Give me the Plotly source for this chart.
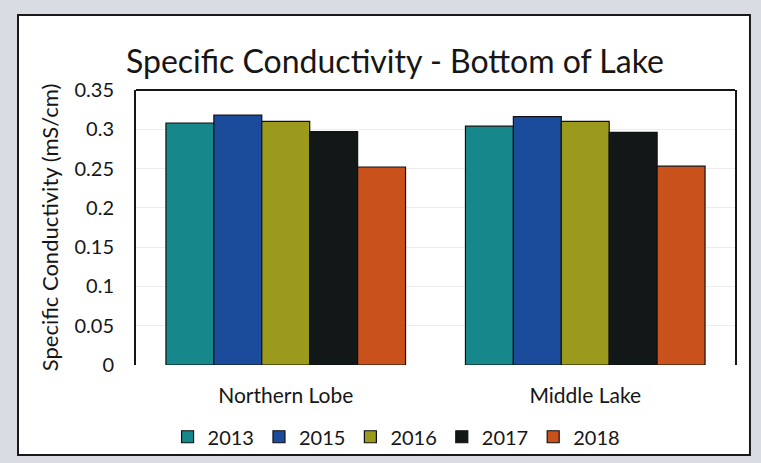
import plotly.graph_objects as go

# Bottom-of-lake specific conductivity by site and survey year
sites = ["Northern Lobe", "Middle Lake"]
years = ["2013", "2015", "2016", "2017", "2018"]
cond_2013 = [0.308, 0.304]
cond_2015 = [0.318, 0.316]
cond_2016 = [0.310, 0.310]
cond_2017 = [0.297, 0.296]
cond_2018 = [0.252, 0.253]
y_ticks = [0, 0.05, 0.1, 0.15, 0.2, 0.25, 0.3, 0.35]
y_tick_text = ["0", "0.05", "0.1", "0.15", "0.2", "0.25", "0.3", "0.35"]

series = [cond_2013, cond_2015, cond_2016, cond_2017, cond_2018]
colors = ["#16878a", "#1b4c9c", "#9c9a1c", "#121818", "#c9521c"]

FONT = "Lato"
INK = "#161616"

fig = go.Figure()
for yr, vals, col in zip(years, series, colors):
    fig.add_trace(go.Bar(
        x=sites, y=vals, name=yr,
        marker=dict(color=col, line=dict(color="#111111", width=1.2)),
    ))

fig.update_layout(
    width=761, height=463,
    margin=dict(l=136, r=26, t=90, b=98, autoexpand=False),
    paper_bgcolor="#d9dce2",
    plot_bgcolor="white",
    barmode="group",
    bargap=0.2,
    bargroupgap=0,
    font=dict(family=FONT, color=INK, size=16),
    title=dict(
        text="Specific Conductivity - Bottom of Lake",
        x=0.519, xref="container", xanchor="center",
        y=0.866, yref="container", yanchor="middle",
        font=dict(family=FONT, size=32, color=INK),
    ),
    showlegend=True,
    legend=dict(
        orientation="h", x=0.435, xanchor="center", y=-0.19, yanchor="top",
        font=dict(family=FONT, size=20, color=INK),
        bgcolor="rgba(0,0,0,0)", itemwidth=30, traceorder="normal",
    ),
    shapes=[
        # white chart card with dark border
        dict(type="rect", xref="paper", yref="paper",
             x0=-0.197, x1=1.025, y0=-0.327, y1=1.273,
             fillcolor="white", line=dict(color="#1a1a1a", width=2),
             layer="below"),
        # top border of the plot area
        dict(type="line", xref="paper", yref="paper",
             x0=0, x1=1, y0=1, y1=1,
             line=dict(color=INK, width=2)),
    ],
)

fig.update_xaxes(
    showline=False, ticks="", showgrid=False, automargin=False,
    tickfont=dict(family=FONT, size=21, color=INK),
    ticklabelstandoff=16,
)
fig.update_yaxes(
    range=[0, 0.35], automargin=False,
    tickvals=y_ticks, ticktext=y_tick_text,
    showgrid=True, gridcolor="#ededed", gridwidth=1,
    showline=True, linecolor=INK, linewidth=2, mirror=True,
    ticks="", ticklen=0,
    ticklabelstandoff=16,
    tickfont=dict(family=FONT, size=20, color=INK),
    title=dict(text="Specific Conductivity (mS/cm)",
               font=dict(family=FONT, size=22, color=INK), standoff=10),
    zeroline=False,
)

fig.write_html("out.html")
